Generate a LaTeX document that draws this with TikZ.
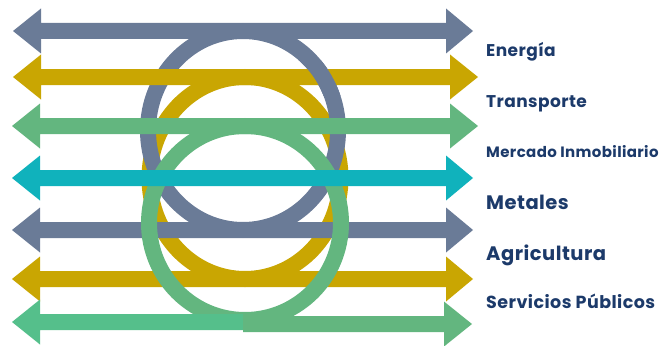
\documentclass[tikz,border=0pt]{standalone}
\usepackage{fontspec}
\newfontfamily\lblfont{Poppins}[LetterSpace=2.5]
\definecolor{slatec}{HTML}{6A7B97}
\definecolor{goldc}{HTML}{C9A602}
\definecolor{greenc}{HTML}{63B67F}
\definecolor{greenl}{HTML}{55BF8B}
\definecolor{tealc}{HTML}{10B2BC}
\definecolor{navyc}{HTML}{1C3A6A}
\newcommand\darr[6]{%
  \fill[#1] (#3,#2) -- (#4,#2-22.5) -- (#4,#2-8) -- (#5,#2-8) -- (#5,#2-22.5) -- (#6,#2)
   -- (#5,#2+22.5) -- (#5,#2+8) -- (#4,#2+8) -- (#4,#2+22.5) -- cycle;}
\begin{document}
\begin{tikzpicture}[x=1pt,y=-1pt,
  ring/.style={line width=16pt},
  lbl/.style={anchor=base west, inner sep=0pt, text=navyc, font=\lblfont\bfseries}]
\useasboundingbox (0,0) rectangle (671,345);
% rings (bottom layers)
\draw[ring, goldc] (245,178) ellipse [x radius=95.5pt, y radius=101pt];
\draw[ring, slatec] (243,130.5) ellipse [x radius=95pt, y radius=99.5pt];
% gold and slate arrows
\darr{goldc}{77}{13}{41}{450}{478}
\darr{goldc}{279}{12}{40}{446}{473}
\darr{slatec}{31}{13}{41}{446}{473}
\darr{slatec}{230}{12}{40}{446}{473}
% slate ring over gold arrow on the right
\begin{scope}
  \clip (244,60) rectangle (360,95);
  \draw[ring, slatec] (243,130.5) ellipse [x radius=95pt, y radius=99.5pt];
\end{scope}
% green ring
\draw[ring, greenc] (245,223) ellipse [x radius=96pt, y radius=97pt];
% green arrows
\darr{greenc}{126}{12}{40}{450}{478}
\fill[greenl] (12,322) -- (40,322-22.5) -- (40,314) -- (243,314) -- (243,330) -- (40,330) -- (40,322+22.5) -- cycle;
\fill[greenc] (243,316) -- (444,316) -- (444,324-22.5) -- (472,324) -- (444,324+22.5) -- (444,332) -- (243,332) -- cycle;
% teal arrow
\darr{tealc}{178}{12}{40}{446}{473}
% labels
\node[lbl, font=\lblfont\bfseries\fontsize{17}{17}\selectfont] (l1) at (486,56.7) {Energía};
\node[lbl, font=\lblfont\bfseries\fontsize{17}{17}\selectfont] (l2) at (486,107.7) {Transporte};
\node[lbl, font=\lblfont\bfseries\fontsize{15}{15}\selectfont] (l3) at (486,157.3) {Mercado Inmobiliario};
\node[lbl, font=\lblfont\bfseries\fontsize{19.5}{19.5}\selectfont] (l4) at (486,209) {Metales};
\node[lbl, font=\lblfont\bfseries\fontsize{19.5}{19.5}\selectfont] (l5) at (486,260) {Agricultura};
\node[lbl, font=\lblfont\bfseries\fontsize{17.5}{17.5}\selectfont] (l6) at (486,308) {Servicios Públicos};
\end{tikzpicture}
\end{document}
